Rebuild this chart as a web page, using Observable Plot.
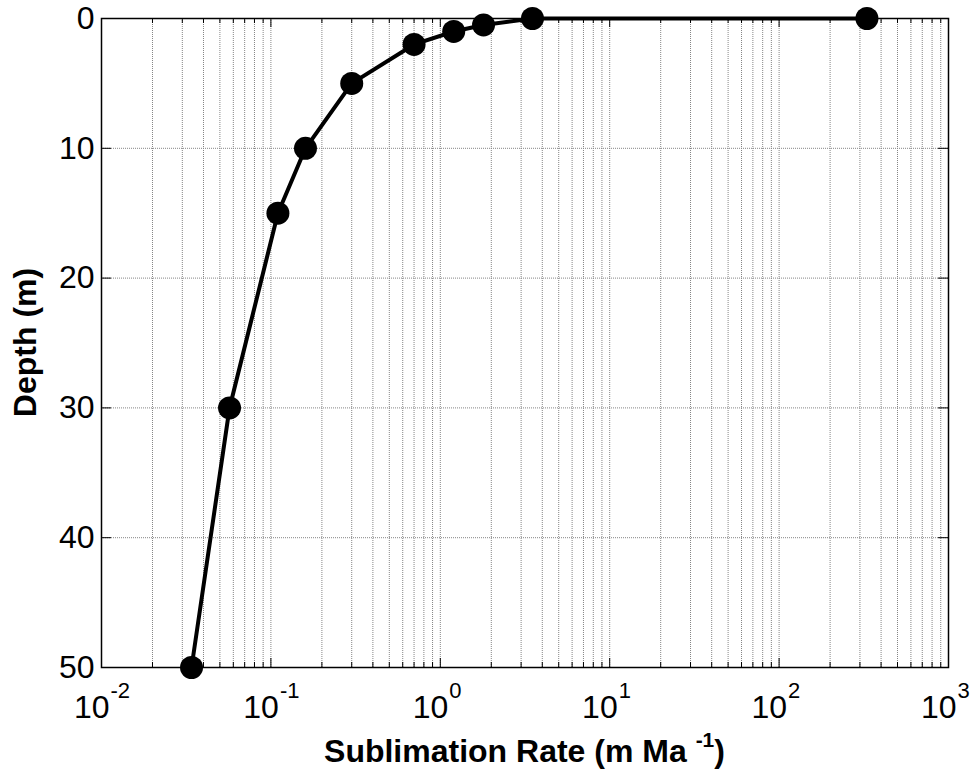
<!DOCTYPE html>
<html>
<head>
<meta charset="utf-8">
<script src="https://cdn.jsdelivr.net/npm/d3@7"></script>
<script src="https://cdn.jsdelivr.net/npm/@observablehq/plot@0.6"></script>
<style>
  html, body { margin: 0; padding: 0; background: #fff; }
  svg { display: block; }
</style>
</head>
<body>
<div id="chart"></div>
<script>
// Sublimation rate profile with depth
const depth = [0, 0, 0.5, 1, 2, 5, 10, 15, 30, 50];
const rate  = [330, 3.5, 1.8, 1.2, 0.7, 0.3, 0.16, 0.11, 0.057, 0.034];

// Axis ticks
const xMajor = [0.01, 0.1, 1, 10, 100, 1000];
const xExponents = ["-2", "-1", "0", "1", "2", "3"];
const yTicks = [0, 10, 20, 30, 40, 50];
const yGrid = [10, 20, 30, 40];

const W = 972, H = 772;
const mL = 101, mR = 24, mT = 18, mB = 105;
const innerW = W - mL - mR, innerH = H - mT - mB;
const font = "'Liberation Sans', Arial, Helvetica, sans-serif";

// minor decade ticks 2..9 × 10^e
const xMinor = [];
for (let e = -2; e < 3; e++) for (let k = 2; k <= 9; k++) xMinor.push(k * Math.pow(10, e));

const points = depth.map((d, i) => ({depth: d, rate: rate[i]}));

const chart = Plot.plot({
  width: W,
  height: H,
  marginLeft: mL,
  marginRight: mR,
  marginTop: mT,
  marginBottom: mB,
  style: {fontFamily: font, background: "#fff", color: "#000"},
  x: {type: "log", domain: [0.01, 1000], axis: null},
  y: {domain: [0, 50], reverse: true, axis: null},
  marks: [
    // dotted grid
    Plot.ruleX([...xMinor, ...xMajor], {x: d => d, stroke: "#858585", strokeWidth: 1, strokeDasharray: "1,1"}),
    Plot.ruleY(yGrid, {y: d => d, stroke: "#858585", strokeWidth: 1, strokeDasharray: "1,1"}),
    // inward ticks: bottom and top
    Plot.tickX(xMajor, {x: d => d, insetTop: innerH - 9, stroke: "#000", strokeWidth: 1}),
    Plot.tickX(xMajor, {x: d => d, insetBottom: innerH - 9, stroke: "#000", strokeWidth: 1}),
    Plot.tickX(xMinor, {x: d => d, insetTop: innerH - 5, stroke: "#000", strokeWidth: 1}),
    Plot.tickX(xMinor, {x: d => d, insetBottom: innerH - 5, stroke: "#000", strokeWidth: 1}),
    // inward ticks: left and right
    Plot.tickY(yTicks, {y: d => d, insetRight: innerW - 10, stroke: "#000", strokeWidth: 1}),
    Plot.tickY(yTicks, {y: d => d, insetLeft: innerW - 10, stroke: "#000", strokeWidth: 1}),
    Plot.frame({stroke: "#000", strokeWidth: 1.5}),
    // profile
    Plot.line(points, {x: "rate", y: "depth", stroke: "#000", strokeWidth: 4, strokeLinejoin: "round"}),
    Plot.dot(points, {x: "rate", y: "depth", r: 11.5, fill: "#000", stroke: "none"}),
    // y tick labels
    Plot.text(yTicks, {y: d => d, frameAnchor: "left", text: d => String(d), textAnchor: "end", dx: -7, fontSize: 32, fill: "#000"}),
    // x tick labels: base and exponent
    Plot.text(xMajor, {x: d => d, frameAnchor: "bottom", text: () => "10", textAnchor: "end", lineAnchor: "bottom", dx: 8, dy: 50, fontSize: 32, fill: "#000"}),
    Plot.text(xMajor, {x: d => d, frameAnchor: "bottom", text: (d, i) => xExponents[i], textAnchor: "start", lineAnchor: "bottom", dx: 9, dy: 30, fontSize: 22, fill: "#000"})
  ]
});

const svg = d3.select(chart);

// x-axis title with superscript
const xt = svg.append("text")
  .attr("x", mL + innerW / 2)
  .attr("y", 762)
  .attr("text-anchor", "middle")
  .attr("font-family", font)
  .attr("font-weight", "bold")
  .attr("font-size", 32)
  .attr("fill", "#000");
xt.append("tspan").text("Sublimation Rate (m Ma ");
xt.append("tspan").attr("dy", -15).attr("font-size", 21).text("-1");
xt.append("tspan").attr("dy", 15).text(")");

// y-axis title
svg.append("text")
  .attr("transform", `translate(36,${mT + innerH / 2}) rotate(-90)`)
  .attr("text-anchor", "middle")
  .attr("font-family", font)
  .attr("font-weight", "bold")
  .attr("font-size", 32)
  .attr("fill", "#000")
  .text("Depth (m)");

document.getElementById("chart").appendChild(chart);
</script>
</body>
</html>
